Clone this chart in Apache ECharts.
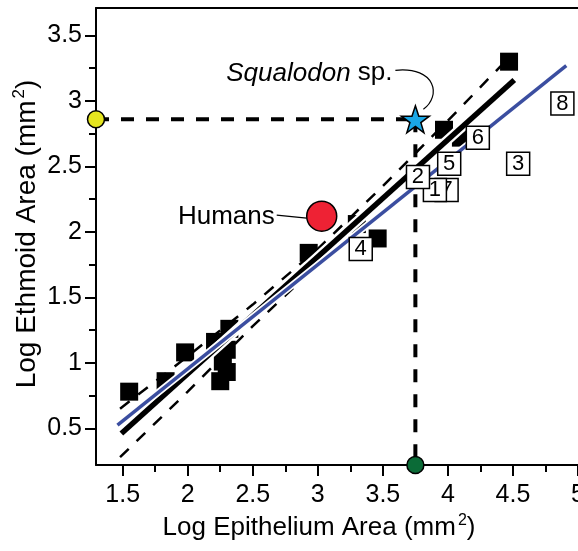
<!DOCTYPE html>
<html>
<head>
<meta charset="utf-8">
<title>Ethmoid vs Epithelium</title>
<script src="https://cdn.jsdelivr.net/npm/echarts@6/dist/echarts.min.js"></script>
<style>
  html, body { margin: 0; padding: 0; background: #fff; }
  #chart { width: 578px; height: 551px; }
</style>
</head>
<body>
<div id="chart"></div>
<script>
// 数据
const squares = [
  [1.55, 0.78], [1.83, 0.86], [1.98, 1.08], [2.21, 1.16], [2.32, 1.26], [2.30, 1.10],
  [2.27, 1.01], [2.30, 0.93], [2.25, 0.86], [2.93, 1.84], [3.30, 2.06], [3.46, 1.95],
  [3.97, 2.78], [4.10, 2.72], [4.47, 3.30]
]
const boxNames = ['7', '1', '2', '5', '6', '3', '8', '4']
const boxPoints = [
  [3.99, 2.32], [3.90, 2.32], [3.77, 2.42], [4.01, 2.52],
  [4.23, 2.72], [4.54, 2.52], [4.88, 2.98], [3.33, 1.87]
]
const fitLine = [[1.49, 0.46], [4.51, 3.16]]
const blueLine = [[1.46, 0.525], [4.91, 3.27]]
const upperBand = [[1.48, 0.65], [2.0, 1.05], [2.5, 1.445], [3.0, 1.87], [3.5, 2.35], [4.0, 2.85], [4.41, 3.27]]
const lowerBand = [[1.48, 0.28], [2.0, 0.78], [2.5, 1.28], [3.0, 1.75], [3.5, 2.16], [4.0, 2.55], [4.41, 2.87]]
const humans = [3.03, 2.12]
const squalodon = [3.75, 2.86]
const xMin = 1.295
const xMax = 5
const yMin = 0.22
const yMax = 3.71
const xMajor = [1.5, 2, 2.5, 3, 3.5, 4, 4.5, 5]
const xMinor = [1.75, 2.25, 2.75, 3.25, 3.75, 4.25, 4.75]
const yMajor = [0.5, 1, 1.5, 2, 2.5, 3, 3.5]
const yMinor = [0.75, 1.25, 1.75, 2.25, 2.75, 3.25]

const FONT = '"Liberation Sans", Arial, Helvetica, sans-serif'
const gridBox = { left: 96, right: 0, top: 8, bottom: 86, outerBoundsMode: 'none', containLabel: false }

function lineSeries (data, color, width, type, z) {
  return {
    type: 'line',
    z: z,
    data: data,
    symbol: 'none',
    silent: true,
    clip: false,
    xAxisIndex: 0,
    yAxisIndex: 0,
    lineStyle: { color: color, width: width, type: type || 'solid', cap: 'butt', opacity: 1 }
  }
}

// 编号方框: 每个一个系列, z 逐个加 1, 后画的方框盖住前面的
function boxSeries (name, point, z) {
  return {
    type: 'scatter', z: z, silent: true, clip: false, symbol: 'rect', symbolSize: [23, 23],
    data: [{ value: point, name: name }],
    itemStyle: { color: '#fff', borderColor: '#000', borderWidth: 1.5, opacity: 1 },
    label: {
      show: true, position: 'inside', formatter: '{b}',
      color: '#000', fontSize: 22, fontFamily: FONT
    },
    labelLayout: { hideOverlap: false }
  }
}

function dotSeries (point, size, color, z) {
  return {
    type: 'scatter', z: z, silent: true, clip: false, symbol: 'circle', symbolSize: size,
    data: [point],
    itemStyle: { color: color, borderColor: '#000', borderWidth: 1.5, opacity: 1 }
  }
}

const chart = echarts.init(document.getElementById('chart'))
const option = {
  animation: false,
  grid: [gridBox, gridBox],
  xAxis: [
    { // 主轴
      type: 'value', gridIndex: 0, min: xMin, max: xMax, position: 'bottom',
      axisLine: { show: true, lineStyle: { color: '#000', width: 2 } },
      axisTick: { show: true, customValues: xMajor, length: 11, lineStyle: { color: '#000', width: 2 } },
      axisLabel: { customValues: xMajor, margin: 18, fontSize: 25, color: '#000', fontFamily: FONT },
      splitLine: { show: false }
    },
    { // 上边框
      type: 'value', gridIndex: 0, min: xMin, max: xMax, position: 'top',
      axisLine: { show: true, lineStyle: { color: '#000', width: 2 } },
      axisTick: { show: false }, axisLabel: { show: false }, splitLine: { show: false }
    },
    { // 次刻度
      type: 'value', gridIndex: 1, min: xMin, max: xMax, position: 'bottom',
      axisLine: { show: false },
      axisTick: { show: true, customValues: xMinor, length: 7, lineStyle: { color: '#000', width: 2 } },
      axisLabel: { show: false }, splitLine: { show: false }
    }
  ],
  yAxis: [
    {
      type: 'value', gridIndex: 0, min: yMin, max: yMax, position: 'left',
      axisLine: { show: true, lineStyle: { color: '#000', width: 2 } },
      axisTick: { show: true, customValues: yMajor, length: 11, lineStyle: { color: '#000', width: 2 } },
      axisLabel: { customValues: yMajor, margin: 14, fontSize: 25, color: '#000', fontFamily: FONT },
      splitLine: { show: false }
    },
    {
      type: 'value', gridIndex: 1, min: yMin, max: yMax, position: 'left',
      axisLine: { show: false },
      axisTick: { show: true, customValues: yMinor, length: 7, lineStyle: { color: '#000', width: 2 } },
      axisLabel: { show: false }, splitLine: { show: false }
    }
  ],
  series: [
    {
      type: 'scatter', z: 2, data: squares, symbol: 'rect', symbolSize: 18, silent: true,
      itemStyle: { color: '#000', opacity: 1 }
    },
    lineSeries(upperBand, '#000', 2.5, [12, 11], 3),
    lineSeries(lowerBand, '#000', 2.5, [12, 11], 3),
    lineSeries(fitLine, '#fff', 10, 'solid', 4),
    lineSeries(fitLine, '#000', 5.5, 'solid', 5),
    lineSeries(blueLine, '#fff', 7, 'solid', 6),
    lineSeries(blueLine, '#3b4ea0', 3.5, 'solid', 7),
    lineSeries([[xMin, squalodon[1]], squalodon], '#000', 4, [13, 12], 8),
    lineSeries([squalodon, [squalodon[0], yMin]], '#000', 4, [13, 12], 8)
  ]
    .concat(boxPoints.map((p, i) => boxSeries(boxNames[i], p, 10 + i)))
    .concat([
      dotSeries(humans, 30, '#ee2234', 20),
      dotSeries([xMin, squalodon[1]], 17, '#e5e51f', 20),
      dotSeries([squalodon[0], yMin], 17, '#0b6b37', 20),
      {
        type: 'scatter', z: 21, silent: true, clip: false,
        symbol: 'path://M50,0 L61.8,35.1 L98.1,35.1 L68.8,56.7 L79.4,91.2 L50,70 L20.6,91.2 L31.2,56.7 L1.9,35.1 L38.2,35.1 Z',
        symbolSize: [28, 27],
        data: [squalodon],
        itemStyle: { color: '#1aa7e6', borderColor: '#000', borderWidth: 1.5, opacity: 1 }
      }
    ])
}
chart.setOption(option)

// 注释文字和连线
const hp = chart.convertToPixel({ xAxisIndex: 0, yAxisIndex: 0 }, humans)
const sp = chart.convertToPixel({ xAxisIndex: 0, yAxisIndex: 0 }, squalodon)
function titleRich (size) {
  return {
    n: { fontSize: size, fontFamily: FONT, fill: '#000', lineHeight: size + 4 },
    s: { fontSize: Math.round(size * 0.6), fontFamily: FONT, fill: '#000', lineHeight: size + 4, verticalAlign: 'top', padding: [0, 0, 12, 2] }
  }
}
chart.setOption({
  graphic: [
    {
      type: 'text', x: 319, y: 528,
      style: { text: '{n|Log Epithelium Area (mm}{s|2}{n|)}', rich: titleRich(26), align: 'center', verticalAlign: 'middle' }
    },
    {
      type: 'text', x: 27, y: 234, rotation: Math.PI / 2,
      style: { text: '{n|Log Ethmoid Area (mm}{s|2}{n|)}', rich: titleRich(28), align: 'center', verticalAlign: 'middle' }
    },
    {
      type: 'text', x: hp[0] - 47, y: hp[1] + 1,
      style: { text: 'Humans', fontSize: 26, fontFamily: FONT, fill: '#000', align: 'right', verticalAlign: 'middle' }
    },
    {
      type: 'line',
      shape: { x1: hp[0] - 45, y1: hp[1] - 1, x2: hp[0] - 15, y2: hp[1] + 2 },
      style: { stroke: '#000', lineWidth: 1.2 }
    },
    {
      type: 'text', x: sp[0] - 106, y: sp[1] - 46,
      style: {
        text: '{i|Squalodon}{r| sp.}',
        rich: {
          i: { fontSize: 26, fontFamily: FONT, fontStyle: 'italic', fill: '#000' },
          r: { fontSize: 26, fontFamily: FONT, fill: '#000' }
        },
        align: 'center', verticalAlign: 'middle'
      }
    },
    {
      type: 'bezierCurve',
      shape: {
        x1: sp[0] - 20, y1: sp[1] - 49,
        cpx1: sp[0] + 21, cpy1: sp[1] - 53,
        cpx2: sp[0] + 26, cpy2: sp[1] - 23,
        x2: sp[0] + 8, y2: sp[1] - 10
      },
      style: { stroke: '#000', lineWidth: 1.2, fill: null }
    }
  ]
})
</script>
</body>
</html>
